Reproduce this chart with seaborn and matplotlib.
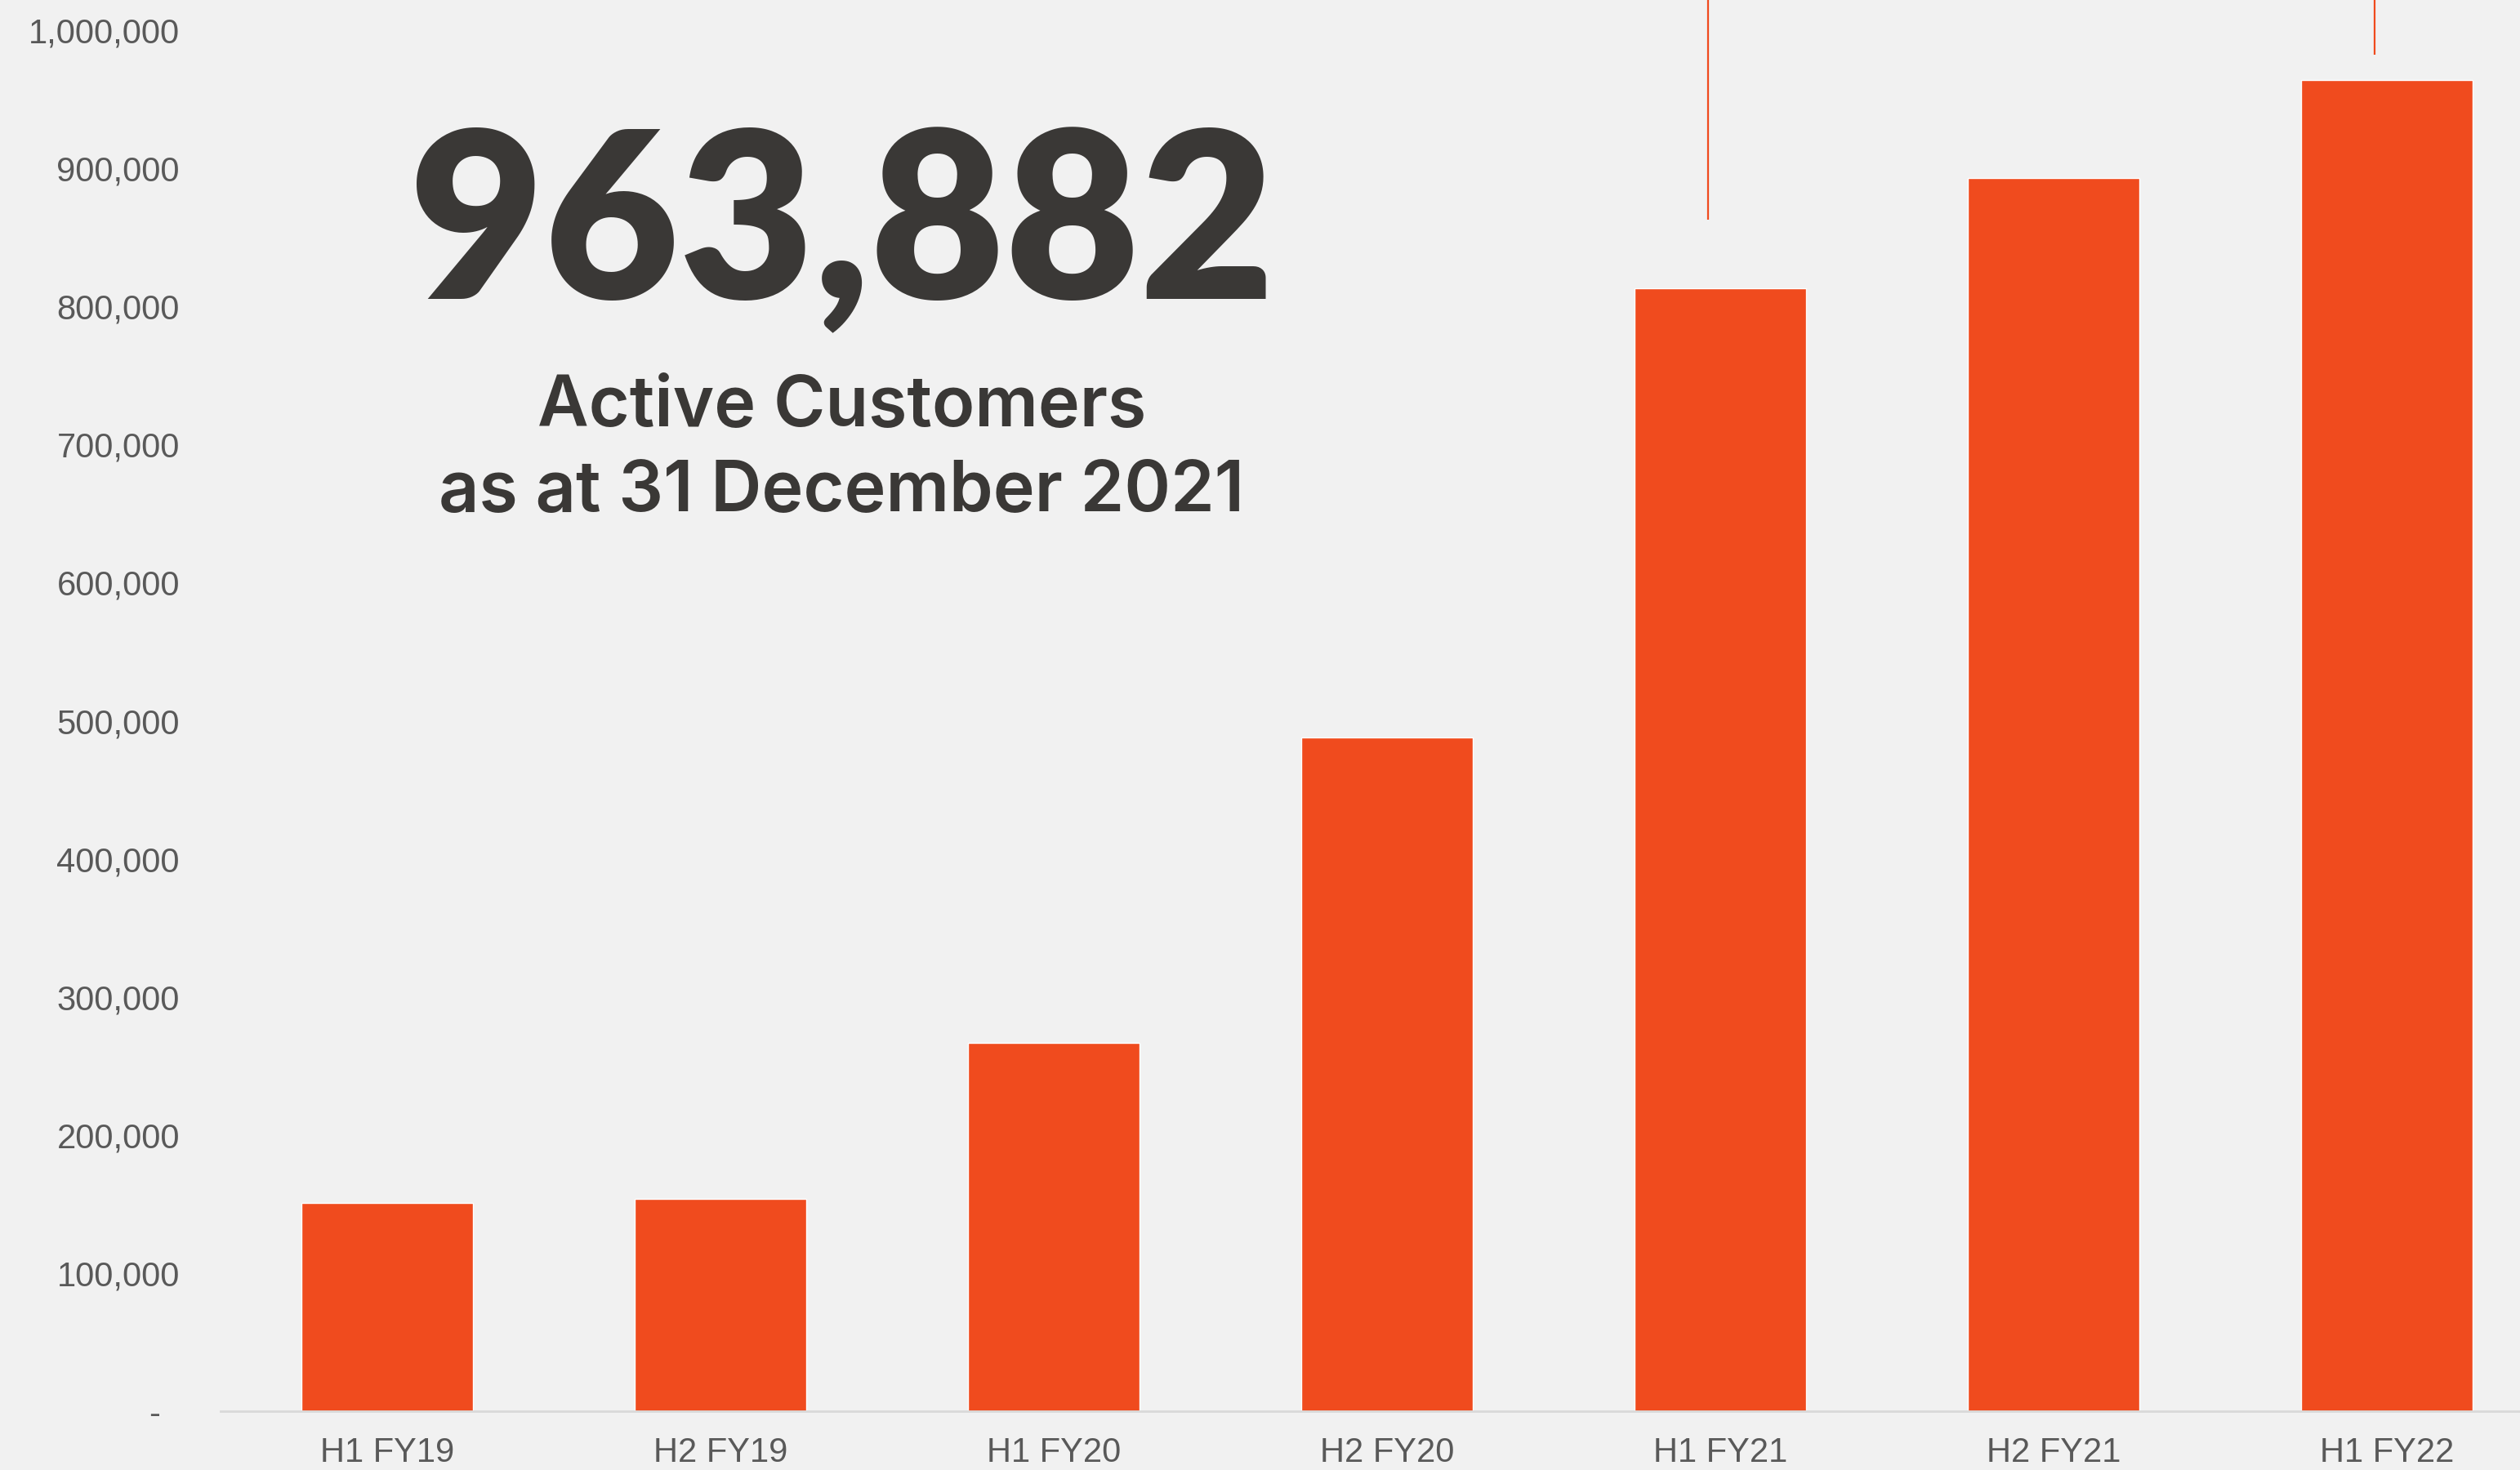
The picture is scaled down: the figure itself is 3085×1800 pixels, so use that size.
import matplotlib
matplotlib.use('Agg')
import matplotlib.pyplot as plt
import seaborn as sns
import pandas as pd

# Datos
periodos = ['H1 FY19', 'H2 FY19', 'H1 FY20', 'H2 FY20', 'H1 FY21', 'H2 FY21', 'H1 FY22']
clientes = [151000, 154000, 267000, 488000, 813000, 893000, 963882]
yticks = [0, 100000, 200000, 300000, 400000, 500000, 600000, 700000, 800000, 900000, 1000000]
ytick_labels = ['-  '] + [f'{v:,}' for v in yticks[1:]]

# lineas verticales sobre algunas barras
lineas_cat = ['H1 FY21', 'H1 FY22']
lineas_base = [863000, 982000]

titulo_num = '963,882'
titulo_txt = 'Active Customers\nas at 31 December 2021'

NARANJA = '#F04B1E'
FONDO = '#F1F1F1'
TEXTO = '#3A3836'
GRIS = '#595959'

sns.set_style('white')
plt.rcParams['font.family'] = ['Liberation Sans', 'DejaVu Sans']

df = pd.DataFrame({'Periodo': periodos, 'Clientes': clientes})

fig = plt.figure(figsize=(30.85, 18), dpi=100, facecolor=FONDO)
ax = fig.add_axes([0.0875, 0.04, 0.9125, 0.96])
ax.set_facecolor(FONDO)

sns.barplot(data=df, x='Periodo', y='Clientes', color=NARANJA, saturation=1,
            width=0.515, ax=ax)

for cat, base in zip(lineas_cat, lineas_base):
    xi = periodos.index(cat) - 0.036
    ax.vlines(xi, base, 1.2e6, color=NARANJA, lw=1.6)

ax.set_xlim(-0.5, 6.4)
ax.set_ylim(0, 1021900)
ax.set_yticks(yticks)
ax.set_yticklabels(ytick_labels)
ax.set_xlabel('')
ax.set_ylabel('')
ax.tick_params(axis='y', length=0, pad=36, labelsize=30, labelcolor=GRIS)
ax.tick_params(axis='x', length=0, pad=22, labelsize=30, labelcolor=GRIS)

for s in ['top', 'right', 'left']:
    ax.spines[s].set_visible(False)
ax.spines['bottom'].set_color('#D9D9D9')
ax.spines['bottom'].set_linewidth(2)

# Texto destacado
fig.text(0.334, 0.7967, titulo_num, ha='center', va='baseline', fontsize=205,
         fontweight='heavy', color=TEXTO, family=['Lato', 'DejaVu Sans'])
l1, l2 = titulo_txt.split('\n')
fig.text(0.334, 0.7106, l1, ha='center', va='baseline', fontsize=62,
         fontweight='semibold', color=TEXTO, family=['Inter', 'DejaVu Sans'])
fig.text(0.334, 0.652, l2, ha='center', va='baseline', fontsize=62,
         fontweight='semibold', color=TEXTO, family=['Inter', 'DejaVu Sans'])

plt.savefig('out.png', dpi=100, facecolor=FONDO)
